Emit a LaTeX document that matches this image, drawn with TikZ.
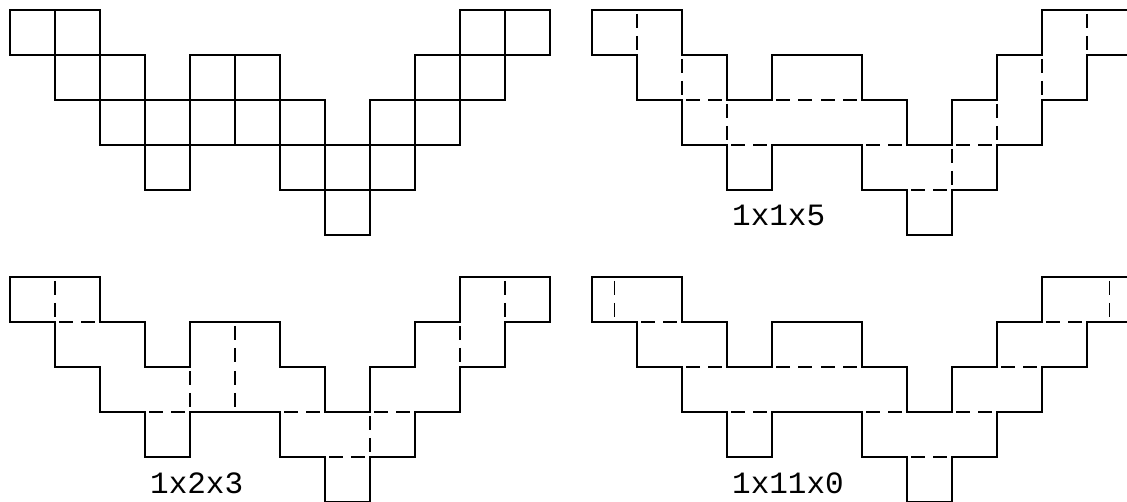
\documentclass[tikz,border=0pt]{standalone}
\usepackage{fontspec}
\newfontfamily\labelmono{Liberation Mono}
\tikzset{
  outline/.style={line width=1.6pt, line join=miter, line cap=rect},
  gridline/.style={line width=1.6pt},
  cutline/.style={line width=1.6pt, dash pattern=on 14pt off 8pt, dash phase=18pt},
  lbl/.style={font=\labelmono\fontsize{31}{31}\selectfont, anchor=base west, inner sep=0pt},
  wshape/.pic={
    \draw[outline] (0,0) -- (2,0) -- (2,1) -- (3,1) -- (3,2) -- (4,2) -- (4,1) -- (6,1) -- (6,2)
      -- (7,2) -- (7,3) -- (8,3) -- (8,2) -- (9,2) -- (9,1) -- (10,1) -- (10,0) -- (12,0)
      -- (12,1) -- (11,1) -- (11,2) -- (10,2) -- (10,3) -- (9,3) -- (9,4) -- (8,4) -- (8,5)
      -- (7,5) -- (7,4) -- (6,4) -- (6,3) -- (4,3) -- (4,4) -- (3,4) -- (3,3) -- (2,3)
      -- (2,2) -- (1,2) -- (1,1) -- (0,1) -- cycle;
  }
}
\begin{document}
\begin{tikzpicture}
\useasboundingbox (0pt,0pt) rectangle (1127pt,-502pt);
\clip (0pt,0pt) rectangle (1127pt,-502pt);

% top-left: full grid
\begin{scope}[shift={(10pt,-10pt)}, x=45pt, y=-45pt]
  \draw[gridline] (1,0)--(1,1) (11,0)--(11,1) (2,1)--(2,2) (5,1)--(5,2) (10,1)--(10,2)
    (3,2)--(3,3) (4,2)--(4,3) (5,2)--(5,3) (6,2)--(6,3) (9,2)--(9,3) (7,3)--(7,4) (8,3)--(8,4)
    (1,1)--(2,1) (10,1)--(11,1) (2,2)--(3,2) (4,2)--(6,2) (9,2)--(10,2)
    (3,3)--(4,3) (6,3)--(7,3) (8,3)--(9,3) (7,4)--(8,4);
  \pic at (0,0) {wshape};
\end{scope}

% top-right: 1x1x5
\begin{scope}[shift={(592pt,-10pt)}, x=45pt, y=-45pt]
  \draw[cutline] (1,0)--(1,1);
  \draw[cutline] (11,0)--(11,1);
  \draw[cutline] (2,1)--(2,2);
  \draw[cutline] (10,1)--(10,2);
  \draw[cutline] (3,2)--(3,3);
  \draw[cutline] (9,2)--(9,3);
  \draw[cutline] (8,3)--(8,4);
  \draw[cutline] (2,2)--(3,2);
  \draw[cutline] (4,2)--(5,2);
  \draw[cutline] (5,2)--(6,2);
  \draw[cutline] (3,3)--(4,3);
  \draw[cutline] (6,3)--(7,3);
  \draw[cutline] (8,3)--(9,3);
  \draw[cutline] (7,4)--(8,4);
  \pic at (0,0) {wshape};
  \node[lbl] (labA) at (3.11,4.8) {1x1x5};
\end{scope}

% bottom-left: 1x2x3
\begin{scope}[shift={(10pt,-277pt)}, x=45pt, y=-45pt]
  \draw[cutline] (1,0)--(1,1);
  \draw[cutline] (11,0)--(11,1);
  \draw[cutline] (5,1)--(5,2);
  \draw[cutline] (10,1)--(10,2);
  \draw[cutline] (4,2)--(4,3);
  \draw[cutline] (5,2)--(5,3);
  \draw[cutline] (8,3)--(8,4);
  \draw[cutline] (1,1)--(2,1);
  \draw[cutline] (3,3)--(4,3);
  \draw[cutline] (6,3)--(7,3);
  \draw[cutline] (8,3)--(9,3);
  \draw[cutline] (7,4)--(8,4);
  \pic at (0,0) {wshape};
  \node[lbl] (labB) at (3.11,4.8) {1x2x3};
\end{scope}

% bottom-right: 1x11x0
\begin{scope}[shift={(592pt,-277pt)}, x=45pt, y=-45pt]
  \draw[cutline] (0.5,0)--(0.5,1);
  \draw[cutline] (11.5,0)--(11.5,1);
  \draw[cutline] (1,1)--(2,1);
  \draw[cutline] (10,1)--(11,1);
  \draw[cutline] (2,2)--(3,2);
  \draw[cutline] (4,2)--(5,2);
  \draw[cutline] (5,2)--(6,2);
  \draw[cutline] (9,2)--(10,2);
  \draw[cutline] (3,3)--(4,3);
  \draw[cutline] (6,3)--(7,3);
  \draw[cutline] (8,3)--(9,3);
  \draw[cutline] (7,4)--(8,4);
  \pic at (0,0) {wshape};
  \node[lbl] (labC) at (3.11,4.8) {1x11x0};
\end{scope}
\end{tikzpicture}
\end{document}
